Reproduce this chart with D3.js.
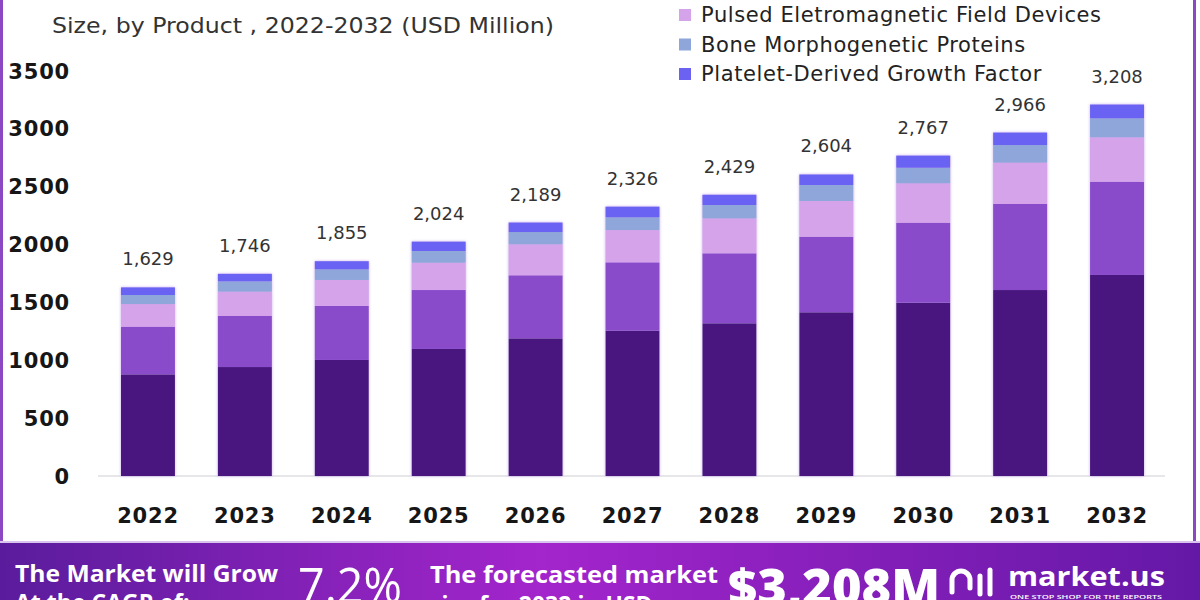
<!DOCTYPE html>
<html>
<head>
<meta charset="utf-8">
<script src="https://cdn.jsdelivr.net/npm/d3@7"></script>
<style>
  html, body { margin: 0; padding: 0; background: #fff; }
  svg { display: block; }
</style>
</head>
<body>
<div id="chart"></div>
<script>
// data (USD Million)
const years = ['2022', '2023', '2024', '2025', '2026', '2027', '2028', '2029', '2030', '2031', '2032'];
const totals = [1629, 1746, 1855, 2024, 2189, 2326, 2429, 2604, 2767, 2966, 3208];
// the two lowest product names are cut off in the picture
const productA = [878, 941, 1002, 1097, 1189, 1255, 1319, 1414, 1497, 1606, 1736];
const productB = [411, 441, 466, 509, 544, 590, 604, 652, 690, 743, 805];
const pulsedDevices = [196, 210, 225, 236, 268, 279, 302, 309, 341, 357, 384];
const boneProteins = [78, 89, 92, 101, 106, 110, 115, 138, 134, 152, 164];
const plateletFactor = [66, 65, 70, 81, 82, 92, 89, 91, 105, 108, 119];
const yTicks = [0, 500, 1000, 1500, 2000, 2500, 3000, 3500];
const legendLabels = ['Pulsed Eletromagnetic Field Devices', 'Bone Morphogenetic Proteins', 'Platelet-Derived Growth Factor'];

const keys = ['productA', 'productB', 'pulsed', 'bone', 'platelet'];
const colors = ['#4a157f', '#8a4ccb', '#d4a3ea', '#8ea6da', '#6b62f2'];

const width = 1200, height = 600;
const svg = d3.select('#chart').append('svg')
  .attr('width', width)
  .attr('height', height);

const defs = svg.append('defs');
const grad = defs.append('linearGradient').attr('id', 'banner').attr('x1', '0').attr('x2', '1');
grad.append('stop').attr('offset', '0').attr('stop-color', '#5a1c9c');
grad.append('stop').attr('offset', '0.45').attr('stop-color', '#a325cc');
grad.append('stop').attr('offset', '1').attr('stop-color', '#6418a6');
const glow = defs.append('filter').attr('id', 'glow').attr('x', '-10%').attr('y', '-10%').attr('width', '120%').attr('height', '120%');
glow.append('feDropShadow').attr('dx', 0).attr('dy', 0).attr('stdDeviation', 1.5)
  .attr('flood-color', '#b48be6').attr('flood-opacity', 0.7);

// frame
svg.append('rect').attr('x', 0).attr('y', 0).attr('width', 3).attr('height', 543).attr('fill', '#8c47c2');
svg.append('rect').attr('x', 1193).attr('y', 0).attr('width', 3).attr('height', 543).attr('fill', '#8c47c2');
svg.append('rect').attr('x', 0).attr('y', 541).attr('width', width).attr('height', 2).attr('fill', '#d9c4ee');

// title (first line is cut off in the reference)
const font = "'DejaVu Sans', sans-serif";
svg.append('text')
  .attr('x', 52).attr('y', 33)
  .attr('font-family', font).attr('font-size', 21)
  .attr('fill', '#333')
  .attr('textLength', 502).attr('lengthAdjust', 'spacingAndGlyphs')
  .text('Size, by Product , 2022-2032 (USD Million)');

const table = years.map((y, i) => ({
  year: y, productA: productA[i], productB: productB[i], pulsed: pulsedDevices[i],
  bone: boneProteins[i], platelet: plateletFactor[i], total: totals[i]
}));
const series = d3.stack().keys(keys)(table);

const x = d3.scaleBand().domain(years).range([101.6, 1163.4]).paddingInner(0.443).paddingOuter(0.2);
const y = d3.scaleLinear().domain([0, 3500]).range([476, 476 - 3500 * 0.1158]);

// baseline
svg.append('line').attr('x1', 98).attr('x2', 1165).attr('y1', y(0)).attr('y2', y(0))
  .attr('stroke', '#cfcfd6').attr('stroke-width', 1);

svg.append('g').attr('filter', 'url(#glow)')
  .selectAll('g').data(series).enter().append('g')
  .attr('fill', (d, i) => colors[i])
  .selectAll('rect').data(d => d).enter().append('rect')
  .attr('x', d => x(d.data.year))
  .attr('width', x.bandwidth())
  .attr('y', d => y(d[1]))
  .attr('height', d => y(d[0]) - y(d[1]));

// totals above bars
svg.append('g').selectAll('text').data(table).enter().append('text')
  .attr('x', d => x(d.year) + x.bandwidth() / 2)
  .attr('y', d => y(d.total) - 22)
  .attr('text-anchor', 'middle')
  .attr('font-family', font).attr('font-size', 18).attr('fill', '#333')
  .text(d => d3.format(',')(d.total));

// y axis
const yAxis = svg.append('g')
  .attr('transform', 'translate(70,0)')
  .call(d3.axisLeft(y).tickValues(yTicks).tickSize(0).tickPadding(0).tickFormat(d3.format('d')));
yAxis.select('.domain').remove();
yAxis.selectAll('text')
  .attr('font-family', font).attr('font-size', 21).attr('font-weight', 'bold').attr('fill', '#161616')
  .attr('letter-spacing', 0.8)
  .attr('dy', '0.35em');

// x axis
const xAxis = svg.append('g')
  .attr('transform', 'translate(0,' + (y(0) + 40) + ')')
  .call(d3.axisBottom(x).tickSize(0).tickPadding(0));
xAxis.select('.domain').remove();
xAxis.selectAll('text')
  .attr('font-family', font).attr('font-size', 21).attr('font-weight', 'bold').attr('fill', '#161616')
  .attr('letter-spacing', 0.8)
  .attr('dy', '0.35em');

// legend (only the last three entries are visible)
const legend = svg.append('g').selectAll('g').data(legendLabels).enter().append('g')
  .attr('transform', (d, i) => 'translate(679,' + (15 + i * 29.5) + ')');
legend.append('rect').attr('x', 0).attr('y', -6).attr('width', 12).attr('height', 12)
  .attr('fill', (d, i) => colors[i + 2]);
legend.append('text').attr('x', 22).attr('dy', '0.35em')
  .attr('font-family', font).attr('font-size', 21).attr('fill', '#222')
  .attr('letter-spacing', 0.6)
  .text(d => d);

// bottom banner
svg.append('rect').attr('x', 0).attr('y', 543).attr('width', width).attr('height', 57).attr('fill', 'url(#banner)');
const bannerFont = "'Open Sans', sans-serif";
const banner = svg.append('g').attr('fill', '#fff').attr('font-family', bannerFont);
banner.append('text').attr('x', 15).attr('y', 582).attr('font-size', 23).attr('font-weight', 700)
  .attr('textLength', 263).attr('lengthAdjust', 'spacingAndGlyphs').text('The Market will Grow');
banner.append('text').attr('x', 15).attr('y', 611).attr('font-size', 23).attr('font-weight', 700)
  .text('At the CAGR of:');
banner.append('text').attr('x', 298).attr('y', 603).attr('font-size', 50).attr('font-weight', 400)
  .attr('textLength', 104).attr('lengthAdjust', 'spacingAndGlyphs').text('7.2%');
banner.append('text').attr('x', 430).attr('y', 583).attr('font-size', 23).attr('font-weight', 700)
  .attr('textLength', 288).attr('lengthAdjust', 'spacingAndGlyphs').text('The forecasted market');
banner.append('text').attr('x', 430).attr('y', 613).attr('font-size', 23).attr('font-weight', 700)
  .text('size for 2032 in USD:');
banner.append('text').attr('x', 728).attr('y', 605).attr('font-size', 50).attr('font-weight', 800)
  .attr('textLength', 212).attr('lengthAdjust', 'spacingAndGlyphs').text('$3,208M');
// logo mark
const logo = banner.append('g').attr('fill', 'none').attr('stroke', '#fff').attr('stroke-width', 5).attr('stroke-linecap', 'round');
logo.append('path').attr('d', 'M952,592 L952,580 A9,9 0 0 1 970,580 L970,588');
logo.append('line').attr('x1', 980).attr('x2', 980).attr('y1', 576).attr('y2', 594);
logo.append('line').attr('x1', 990).attr('x2', 990).attr('y1', 570).attr('y2', 594);
banner.append('text').attr('x', 1008).attr('y', 586).attr('font-size', 27).attr('font-weight', 700)
  .attr('textLength', 157).attr('lengthAdjust', 'spacingAndGlyphs').text('market.us');
banner.append('text').attr('x', 1010).attr('y', 599).attr('font-size', 5.5).attr('font-weight', 600)
  .attr('textLength', 152).attr('lengthAdjust', 'spacingAndGlyphs').text('ONE STOP SHOP FOR THE REPORTS');
</script>
</body>
</html>
